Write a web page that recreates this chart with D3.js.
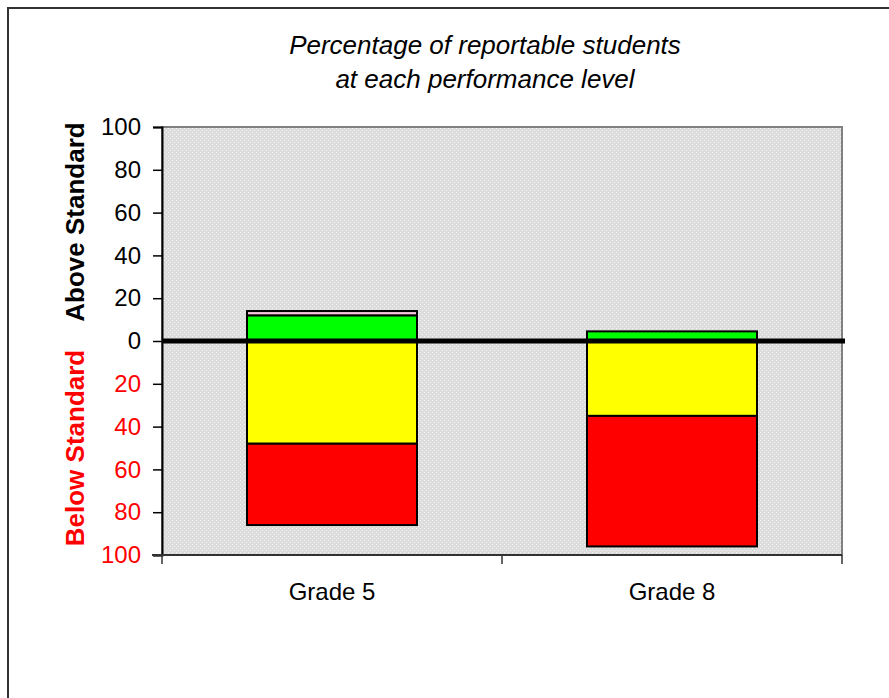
<!DOCTYPE html>
<html>
<head>
<meta charset="utf-8">
<script src="https://cdn.jsdelivr.net/npm/d3@7"></script>
<style>
  body { margin: 0; background: #fff; }
  text { font-family: "Liberation Sans", Arial, sans-serif; }
</style>
</head>
<body>
<div id="chart"></div>
<script>
// data (percent of students)
var grades = ["Grade 5", "Grade 8"];
var farBelow = [38, 61];     // red
var below = [48, 35];        // yellow
var meets = [12, 4.5];       // green
var exceeds = [2, 0];        // pink
var tickValues = [-100, -80, -60, -40, -20, 0, 20, 40, 60, 80, 100];

var width = 889, height = 698;
var plotLeft = 162, plotRight = 842, plotTop = 127, plotBottom = 555;

var svg = d3.select("#chart").append("svg")
    .attr("width", width)
    .attr("height", height);

// dotted grey fill like the spreadsheet plot area
var defs = svg.append("defs");
var pat = defs.append("pattern")
    .attr("id", "dots")
    .attr("width", 4).attr("height", 4)
    .attr("patternUnits", "userSpaceOnUse");
pat.append("rect").attr("width", 4).attr("height", 4).attr("fill", "#dcdcdc");
pat.append("rect").attr("x", 0).attr("y", 0).attr("width", 1).attr("height", 1).attr("fill", "#f4f4f4");
pat.append("rect").attr("x", 2).attr("y", 2).attr("width", 1).attr("height", 1).attr("fill", "#f4f4f4");

// outer frame
svg.append("path")
    .attr("d", "M8," + height + "V8H" + width)
    .attr("fill", "none")
    .attr("stroke", "#333")
    .attr("stroke-width", 2);

var y = d3.scaleLinear().domain([-100, 100]).range([plotBottom, plotTop]);
var x = d3.scaleBand().domain(grades).range([plotLeft, plotRight]).paddingInner(0.5).paddingOuter(0.25);

svg.append("rect")
    .attr("x", plotLeft).attr("y", plotTop)
    .attr("width", plotRight - plotLeft).attr("height", plotBottom - plotTop)
    .attr("fill", "url(#dots)")
    .attr("stroke", "#808080")
    .attr("stroke-width", 2);

// title
svg.append("text")
    .attr("x", 485).attr("y", 54)
    .attr("text-anchor", "middle")
    .style("font-size", "26px").style("font-style", "italic")
    .text("Percentage of reportable students");
svg.append("text")
    .attr("x", 485).attr("y", 88)
    .attr("text-anchor", "middle")
    .style("font-size", "26px").style("font-style", "italic")
    .text("at each performance level");

// y axis
var yAxis = d3.axisLeft(y)
    .tickValues(tickValues)
    .tickSize(9)
    .tickPadding(12)
    .tickFormat(function(d) { return Math.abs(d); });
var ga = svg.append("g")
    .attr("transform", "translate(" + plotLeft + ",0)")
    .call(yAxis);
ga.select(".domain").attr("stroke", "#000").attr("stroke-width", 2);
ga.selectAll(".tick line").attr("stroke", "#000").attr("stroke-width", 1.5);
ga.selectAll(".tick text")
    .style("font-size", "24px")
    .attr("fill", function(d) { return d < 0 ? "#ff0000" : "#000"; });

// x axis line with ticks at category boundaries
svg.append("line")
    .attr("x1", plotLeft - 10).attr("x2", plotRight)
    .attr("y1", plotBottom).attr("y2", plotBottom)
    .attr("stroke", "#333").attr("stroke-width", 2);
var boundaries = [plotLeft, (plotLeft + plotRight) / 2, plotRight];
svg.selectAll(".xtick").data(boundaries).enter().append("line")
    .attr("x1", function(d) { return d; }).attr("x2", function(d) { return d; })
    .attr("y1", plotBottom).attr("y2", plotBottom + 9)
    .attr("stroke", "#333").attr("stroke-width", 1.5);
svg.selectAll(".xlab").data(grades).enter().append("text")
    .attr("x", function(d) { return x(d) + x.bandwidth() / 2; })
    .attr("y", 600)
    .attr("text-anchor", "middle")
    .style("font-size", "24px")
    .text(function(d) { return d; });

// axis titles
svg.append("text")
    .attr("transform", "translate(84,222) rotate(-90)")
    .attr("text-anchor", "middle")
    .style("font-size", "26px").style("font-weight", "bold")
    .text("Above Standard");
svg.append("text")
    .attr("transform", "translate(84,448) rotate(-90)")
    .attr("text-anchor", "middle")
    .style("font-size", "26px").style("font-weight", "bold")
    .attr("fill", "#ff0000")
    .text("Below Standard");

// stacked segments: below zero go downward, above zero go upward
var segs = [];
grades.forEach(function(g, i) {
  segs.push({g: g, y0: 0, y1: -below[i], c: "#ffff00"});
  segs.push({g: g, y0: -below[i], y1: -below[i] - farBelow[i], c: "#ff0000"});
  segs.push({g: g, y0: 0, y1: meets[i], c: "#00ff00"});
  if (exceeds[i] > 0)
    segs.push({g: g, y0: meets[i], y1: meets[i] + exceeds[i], c: "#f4c4d8"});
});

svg.selectAll(".seg").data(segs).enter().append("rect")
    .attr("x", function(d) { return x(d.g); })
    .attr("width", x.bandwidth())
    .attr("y", function(d) { return y(Math.max(d.y0, d.y1)); })
    .attr("height", function(d) { return Math.abs(y(d.y0) - y(d.y1)); })
    .attr("fill", function(d) { return d.c; })
    .attr("stroke", "#000")
    .attr("stroke-width", 2);

// heavy zero line
svg.append("line")
    .attr("x1", plotLeft).attr("x2", plotRight + 3)
    .attr("y1", y(0)).attr("y2", y(0))
    .attr("stroke", "#000").attr("stroke-width", 5);
</script>
</body>
</html>
